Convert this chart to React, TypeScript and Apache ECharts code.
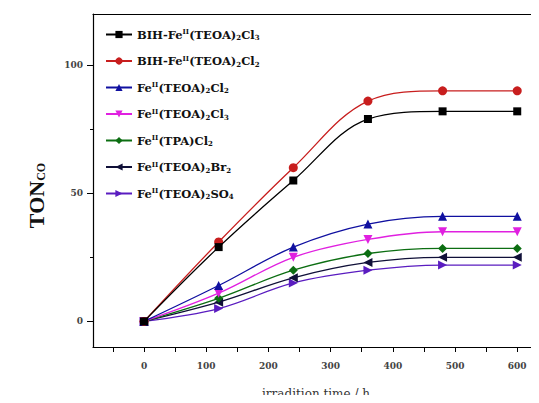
import React, { useEffect, useRef } from "react";
import * as echarts from "echarts";

const times = [0, 120, 240, 360, 480, 600];
const seriesNames = [
  "BIH-FeII(TEOA)2Cl3",
  "BIH-FeII(TEOA)2Cl2",
  "FeII(TEOA)2Cl2",
  "FeII(TEOA)2Cl3",
  "FeII(TPA)Cl2",
  "FeII(TEOA)2Br2",
  "FeII(TEOA)2SO4",
];
const legendLabels = [
  "BIH-Fe{sup|II}(TEOA){sub|2}Cl{sub|3}",
  "BIH-Fe{sup|II}(TEOA){sub|2}Cl{sub|2}",
  "Fe{sup|II}(TEOA){sub|2}Cl{sub|2}",
  "Fe{sup|II}(TEOA){sub|2}Cl{sub|3}",
  "Fe{sup|II}(TPA)Cl{sub|2}",
  "Fe{sup|II}(TEOA){sub|2}Br{sub|2}",
  "Fe{sup|II}(TEOA){sub|2}SO{sub|4}",
];
const bihCl3 = [0, 29, 55, 79, 82, 82];
const bihCl2 = [0, 31, 60, 86, 90, 90];
const teoaCl2 = [0, 14, 29, 38, 41, 41];
const teoaCl3 = [0, 11, 25, 32, 35, 35];
const tpaCl2 = [0, 9, 20, 26.5, 28.5, 28.5];
const teoaBr2 = [0, 7.5, 17, 23, 25, 25];
const teoaSO4 = [0, 5, 15, 20, 22, 22];
const xTicks = [-50, 0, 50, 100, 150, 200, 250, 300, 350, 400, 450, 500, 550, 600];
const xLabels = [0, 100, 200, 300, 400, 500, 600];
const yMajor = [0, 50, 100];
const yMinor = [25, 75];

const values = [bihCl3, bihCl2, teoaCl2, teoaCl3, tpaCl2, teoaBr2, teoaSO4];
const colors = ["#000000", "#c81e1e", "#1010a0", "#e020e0", "#0c6e12", "#101038", "#5a1cc0"];
const symbols = ["rect", "circle", "triangle", "triangle", "diamond", "triangle", "triangle"];
const rotations = [0, 0, 0, 180, 0, 90, -90];

export default function App() {
  const ref = useRef<HTMLDivElement>(null);
  useEffect(() => {
    const chart = echarts.init(ref.current!, null, { renderer: "svg" });
    const serifFont = "'DejaVu Serif', 'Liberation Serif', serif";
    const timesFont = "'Liberation Serif', 'DejaVu Serif', serif";
    const tickLabelStyle = {
      color: "#444",
      fontFamily: serifFont,
      fontWeight: "bold" as const,
      fontSize: 9,
    };
    chart.setOption({
      animation: false,
      backgroundColor: "#ffffff",
      grid: { left: 93, top: 14, right: 0, bottom: 56, outerBoundsMode: "none", containLabel: false },
      legend: {
        orient: "vertical",
        left: 100,
        top: 23,
        itemWidth: 26,
        itemHeight: 9,
        itemGap: 13.5,
        data: seriesNames,
        formatter: (name: string) => legendLabels[seriesNames.indexOf(name)],
        textStyle: {
          fontFamily: serifFont,
          fontWeight: "bold",
          fontSize: 11.5,
          color: "#111",
          rich: {
            sup: { fontSize: 7, verticalAlign: "top", padding: [0, 0, 6, 0], fontFamily: serifFont, fontWeight: "bold" },
            sub: { fontSize: 7, verticalAlign: "bottom", padding: [5, 0, 0, 0], fontFamily: serifFont, fontWeight: "bold" },
          },
        },
      },
      xAxis: [
        {
          type: "value",
          min: -82,
          max: 635,
          position: "bottom",
          name: "irradition time / h",
          nameLocation: "middle",
          nameGap: 41,
          nameTextStyle: { fontFamily: serifFont, fontSize: 12, color: "#333" },
          axisLine: { show: true, onZero: false, lineStyle: { color: "#000", width: 1.2 } },
          axisTick: { show: true, inside: false, length: 5, customValues: xTicks, lineStyle: { color: "#000" } },
          axisLabel: { show: true, customValues: xLabels, margin: 14, ...tickLabelStyle },
          splitLine: { show: false },
        },
        {
          type: "value",
          min: -82,
          max: 635,
          position: "top",
          axisLine: { show: true, onZero: false, lineStyle: { color: "#000", width: 1.2 } },
          axisTick: { show: false },
          axisLabel: { show: false },
          splitLine: { show: false },
        },
      ],
      yAxis: [
        {
          type: "value",
          min: -10,
          max: 120,
          position: "left",
          name: "TON{sub|CO}",
          nameLocation: "middle",
          nameGap: 46,
          nameTextStyle: {
            fontFamily: timesFont,
            fontSize: 22,
            fontWeight: "bold",
            color: "#111",
            padding: [0, 30, 0, 0],
            rich: {
              sub: { fontSize: 12, verticalAlign: "bottom", padding: [10, 0, 0, 0], fontFamily: timesFont, fontWeight: "bold", color: "#111" },
            },
          },
          axisLine: { show: true, onZero: false, lineStyle: { color: "#000", width: 1.2 } },
          axisTick: { show: true, inside: false, length: 6, customValues: yMajor, lineStyle: { color: "#000" } },
          axisLabel: { show: true, customValues: yMajor, margin: 10, ...tickLabelStyle },
          splitLine: { show: false },
        },
        {
          type: "value",
          min: -10,
          max: 120,
          position: "left",
          axisLine: { show: false, onZero: false },
          axisTick: { show: true, inside: false, length: 3, customValues: yMinor, lineStyle: { color: "#000" } },
          axisLabel: { show: false },
          splitLine: { show: false },
        },
      ],
      series: seriesNames.map((name, i) => ({
        name,
        type: "line",
        xAxisIndex: 0,
        yAxisIndex: 0,
        smooth: 0.35,
        data: times.map((t, j) => [t, values[i][j]]),
        symbol: symbols[i],
        symbolRotate: rotations[i],
        symbolSize: i === 0 ? 8 : 9,
        itemStyle: { color: colors[i] },
        lineStyle: { color: colors[i], width: 1.3 },
        z: 10 - i,
      })),
    });
    return () => chart.dispose();
  }, []);
  return <div ref={ref} style={{ width: 539, height: 403, margin: -8 }} />;
}
